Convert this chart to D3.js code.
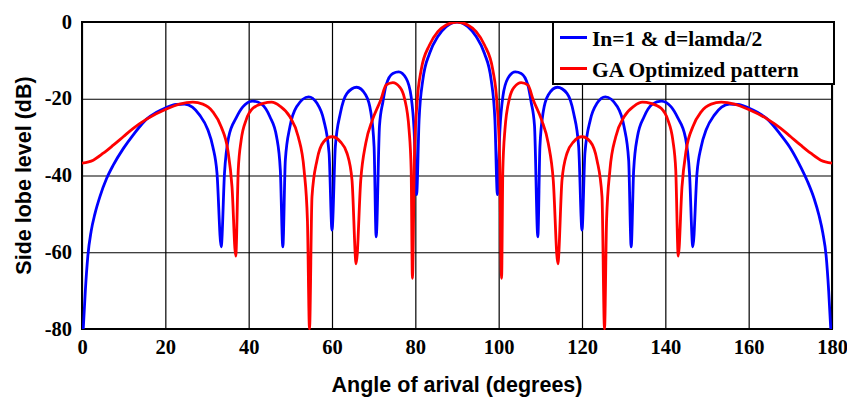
<!DOCTYPE html>
<html>
<head>
<meta charset="utf-8">
<script src="https://cdn.jsdelivr.net/npm/d3@7"></script>
<style>
  html, body { margin: 0; padding: 0; background: #fff; overflow: hidden; }
  svg { display: block; }
  .tick text { font-family: "Liberation Serif", "Times New Roman", serif; font-weight: bold; font-size: 20.5px; fill: #000; }
  .title { font-family: "Liberation Sans", Arial, sans-serif; font-weight: bold; font-size: 21.5px; fill: #000; }
  .legend text { font-family: "Liberation Serif", "Times New Roman", serif; font-weight: bold; font-size: 21.5px; fill: #000; }
</style>
</head>
<body>
<svg id="chart"></svg>
<script>
/* data */
var xTicks = [0, 20, 40, 60, 80, 100, 120, 140, 160, 180];
var yTicks = [0, -20, -40, -60, -80];

// uniform array, In=1 & d=lamda/2
var blueAngles = [0.3, 0.8, 1.4, 2.2, 3.1, 4.3, 5.9, 7.5, 9.9, 12.3, 15.5, 17.8, 20, 22.6, 24.6, 26.5, 28.2, 30.2, 31.4, 32.4, 33.4,
  34.2, 35.2, 37, 38.6, 41, 43.1, 45.1, 46.7, 47.6, 48.2, 48.8, 49.9, 51.5, 54.4, 56.4, 58, 59.3, 60,
  60.8, 62, 63.6, 65.9, 68.1, 69.3, 70.1, 70.6, 71.4, 72.2, 73, 74.6, 76, 77.8, 79, 79.7, 80.3,
  80.9, 81.8, 83.4, 85.4, 87.4, 90,
  92.6, 94.6, 96.6, 98.2, 99.1, 99.7, 100.3, 101, 102.2, 104, 105.4, 107, 107.8, 108.6, 109.4, 109.9, 110.7, 111.9, 114.1, 116.4, 118, 119.2, 120,
  120.7, 122, 123.6, 125.6, 128.5, 130.1, 131.2, 131.8, 132.4, 133.3, 134.9, 136.9, 139, 141.4, 143, 144.8, 145.8, 146.6,
  147.6, 148.6, 149.8, 151.8, 153.5, 155.4, 157.4, 160, 162.2, 164.5, 167.7, 170.1, 172.5, 174.1, 175.7, 176.9, 177.8, 178.6, 179.2, 179.7];
var blueLevels = [-80, -70, -61, -54.5, -50, -45.5, -40.8, -37.3, -33, -29.4, -25.3, -23.6, -22.4, -21.5, -21.4, -22.2, -24.2, -28.1, -32.5, -39.4, -58.6,
  -39.4, -30, -25, -22.1, -20.6, -21.4, -24.7, -29.9, -38.6, -58.6, -36, -27.3, -22.1, -19.5, -21.2, -25.5, -34.2, -54.2,
  -32.5, -23.8, -18.6, -17, -19, -23.4, -32.5, -56, -27, -20.9, -16.4, -13.4, -13, -14.7, -19.5, -28.1, -45,
  -25.5, -15.1, -8.2, -3.8, -1.2, 0,
  -1.2, -3.8, -8.2, -15.1, -25.5, -45, -28.1, -19.5, -14.7, -13, -13.4, -16.4, -20.9, -27, -56, -32.5, -23.4, -19, -17, -18.6, -23.8, -32.5, -54.2,
  -34.2, -25.5, -21.2, -19.5, -22.1, -27.3, -36, -58.6, -38.6, -29.9, -24.7, -21.4, -20.6, -22.1, -25, -30, -39.4, -58.6,
  -39.4, -32.5, -28.1, -24.2, -22.2, -21.4, -21.5, -22.4, -23.6, -25.3, -29.4, -33, -37.8, -41.5, -46, -50.5, -55, -61, -70, -80];

// GA optimized pattern
var redAngles = [0, 2.7, 5.1, 7.5, 9.9, 12.3, 15.5, 20, 23.4, 26.6, 29, 31.4, 33.4, 35, 36, 36.9,
  37.5, 38.2, 39.4, 41, 43.5, 45.5, 47.5, 49.9, 51.9, 53.3, 54.1, 54.6,
  55.2, 56.4, 58, 60, 62, 63.6, 64.8, 65.8, 66.9, 68.1, 69.7, 71.7, 73, 74.6, 76.2, 77.4, 78.5, 79, 79.3,
  79.8, 80.4, 81.4, 83.4, 85.4, 87.4, 90,
  92.6, 94.6, 96.6, 98.6, 99.6, 100.2, 100.7, 101, 101.5, 102.6, 103.8, 105.4, 107, 108.3, 110.3, 111.9, 113.1, 114.2,
  115.2, 116.4, 118, 120, 122, 123.6, 124.8, 125.4, 125.9, 126.7, 128.1, 130.1, 132.5, 134.5, 136.5, 139, 140.6, 141.8, 142.5, 143.1,
  144, 145, 146.6, 148.6, 151, 153.4, 156.6, 160, 164.5, 167.7, 170.1, 172.5, 174.9, 177.3, 180];
var redLevels = [-36.8, -36, -34.2, -32.1, -29.9, -27.7, -25.3, -22.8, -21.4, -20.9, -21.4, -23.4, -27.3, -33.4, -42.9, -61,
  -38.6, -30.8, -25.5, -22.5, -21.2, -20.9, -21.9, -24.7, -29.9, -38.6, -51.6, -80,
  -45.5, -36, -31.2, -29.9, -31.2, -34.2, -41.2, -63, -41.2, -31.6, -25.5, -20.3, -16.4, -15.8, -16.9, -19.9, -28.1, -38.6, -66.8,
  -34.2, -21.2, -12.5, -6, -2.5, -0.8, 0,
  -0.8, -2.5, -6, -12.5, -21.2, -34.2, -66.8, -38.6, -28.1, -19.9, -16.9, -15.8, -16.4, -20.3, -25.5, -31.6, -41.2, -63,
  -41.2, -34.2, -31.2, -29.9, -31.2, -36, -45.5, -80, -51.6, -38.6, -29.9, -24.7, -21.9, -20.9, -21.2, -22.5, -25.5, -30.8, -38.6, -61,
  -42.9, -33.4, -27.3, -23.4, -21.4, -20.9, -21.4, -22.8, -25.3, -27.7, -29.9, -32.1, -34.2, -36, -36.8];

var seriesNames = ["In=1 & d=lamda/2", "GA Optimized pattern"];
var seriesColors = ["#0000ff", "#ff0000"];

/* settings */
var width = 847, height = 397,
    margin = { top: 22, right: 15, bottom: 68, left: 82 },
    innerWidth = width - margin.left - margin.right,
    innerHeight = height - margin.top - margin.bottom;

var svg = d3.select("#chart")
    .attr("width", width)
    .attr("height", height);

var g = svg.append("g")
    .attr("id", "plot")
    .attr("transform", "translate(" + margin.left + "," + margin.top + ")");

var xScale = d3.scaleLinear().domain([0, 180]).range([0, innerWidth]);
var yScale = d3.scaleLinear().domain([-80, 0]).range([innerHeight, 0]);

// plain hyphen for negatives, like the original
var plainFormat = function(d) { return String(d); };

/* grid (no labels, those come from the axes below) */
var xGrid = g.append("g")
    .attr("class", "x-grid")
    .attr("transform", "translate(0," + innerHeight + ")")
    .call(d3.axisBottom(xScale).tickValues(xTicks).tickSize(-innerHeight).tickFormat(""));
xGrid.select(".domain").remove();
xGrid.selectAll("text").remove();
xGrid.selectAll("line").attr("stroke", "#000").attr("stroke-width", 1.2);

var yGrid = g.append("g")
    .attr("class", "y-grid")
    .call(d3.axisLeft(yScale).tickValues(yTicks).tickSize(-innerWidth).tickFormat(""));
yGrid.select(".domain").remove();
yGrid.selectAll("text").remove();
yGrid.selectAll("line").attr("stroke", "#000").attr("stroke-width", 1.2);

/* frame */
g.append("rect")
    .attr("width", innerWidth)
    .attr("height", innerHeight)
    .attr("fill", "none")
    .attr("stroke", "#000")
    .attr("stroke-width", 2);

/* lines */
g.append("clipPath").attr("id", "clip")
  .append("rect").attr("width", innerWidth).attr("height", innerHeight + 1);

var line = d3.line()
    .x(function(d) { return xScale(d[0]); })
    .y(function(d) { return yScale(d[1]); })
    .curve(d3.curveMonotoneX);

var series = [
  d3.zip(blueAngles, blueLevels),
  d3.zip(redAngles, redLevels)
];

g.append("g").attr("clip-path", "url(#clip)")
  .selectAll("path")
  .data(series)
  .enter().append("path")
    .attr("d", line)
    .attr("fill", "none")
    .attr("stroke", function(d, i) { return seriesColors[i]; })
    .attr("stroke-width", 2.8)
    .attr("stroke-linejoin", "round");

/* axes */
var xAxisG = g.append("g")
    .attr("class", "x-axis")
    .attr("transform", "translate(0," + innerHeight + ")")
    .call(d3.axisBottom(xScale).tickValues(xTicks).tickFormat(plainFormat).tickSize(0).tickPadding(10));
xAxisG.select(".domain").remove();

var yAxisG = g.append("g")
    .attr("class", "y-axis")
    .call(d3.axisLeft(yScale).tickValues(yTicks).tickFormat(plainFormat).tickSize(0).tickPadding(10));
yAxisG.select(".domain").remove();
yAxisG.selectAll("text").attr("dy", "0.3em");

svg.append("text")
    .attr("class", "title")
    .attr("x", margin.left + innerWidth / 2)
    .attr("y", 392)
    .attr("text-anchor", "middle")
    .text("Angle of arival (degrees)");

svg.append("text")
    .attr("class", "title")
    .attr("transform", "translate(31," + (margin.top + innerHeight / 2) + ") rotate(-90)")
    .attr("text-anchor", "middle")
    .text("Side lobe level (dB)");

/* legend */
var legend = svg.append("g").attr("class", "legend")
    .attr("transform", "translate(553,22)");

legend.append("rect")
    .attr("width", 281)
    .attr("height", 62)
    .attr("fill", "#fff")
    .attr("stroke", "#000")
    .attr("stroke-width", 2);

var items = legend.selectAll(".item")
    .data(seriesNames)
    .enter().append("g")
    .attr("class", "item")
    .attr("transform", function(d, i) { return "translate(0," + (15.5 + i * 31) + ")"; });

items.append("line")
    .attr("x1", 7).attr("x2", 34)
    .attr("stroke", function(d, i) { return seriesColors[i]; })
    .attr("stroke-width", 3);

items.append("text")
    .attr("x", 39)
    .attr("y", 8)
    .text(function(d) { return d; });
</script>
</body>
</html>
